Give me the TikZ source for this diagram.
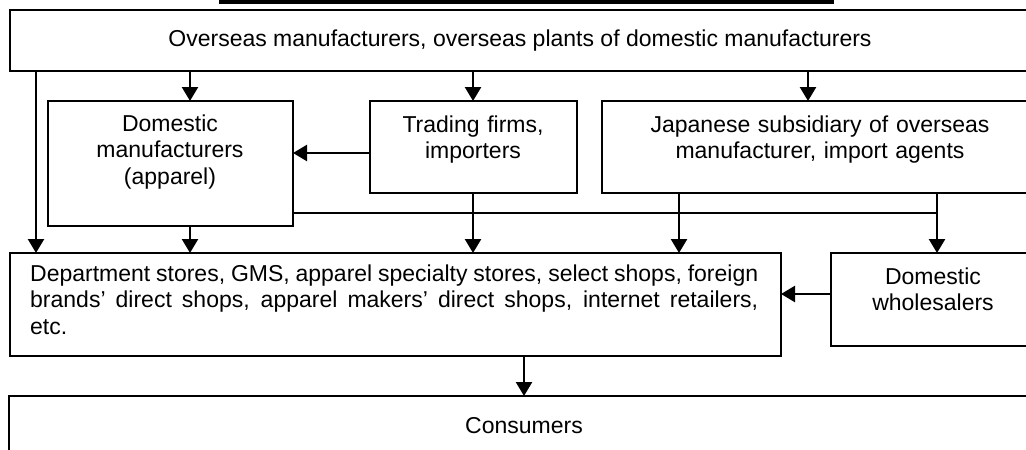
\documentclass[tikz,border=0pt]{standalone}
\usepackage{fontspec}
\setmainfont{Liberation Sans}
\usetikzlibrary{arrows.meta}
\tikzset{
  box/.style={draw=black, line width=2.2pt, rectangle, anchor=north west, inner sep=0pt, outer sep=0pt},
  txt/.style={inner sep=0pt, font=\fontsize{23}{26.5}\selectfont},
  ctxt/.style={txt, text width=#1, align=center, anchor=base},
  arr/.style={line width=2.5pt, -{Triangle[width=16pt,length=14pt]}},
  ln/.style={line width=2.2pt}
}
\begin{document}
\begin{tikzpicture}[x=1pt,y=-1pt]
\useasboundingbox (0,0) rectangle (1026,450);
\clip (0,0) rectangle (1026,450);
% thick bar at the very top
\fill[black] (219,0) rectangle (834,3.5);
% boxes
\node[box, minimum width=1040, minimum height=61] (ov) at (10,10) {};
\node[box, minimum width=245, minimum height=125] (dm) at (48,101) {};
\node[box, minimum width=207, minimum height=92] (tf) at (370,101) {};
\node[box, minimum width=440, minimum height=92] (js) at (602,101) {};
\node[box, minimum width=771, minimum height=103] (ds) at (10,253) {};
\node[box, minimum width=220, minimum height=93] (dw) at (831,253) {};
\node[box, minimum width=1040, minimum height=80] (cs) at (9,396) {};
% texts
\node[txt, anchor=base] (ovt) at (520,46) {Overseas manufacturers, overseas plants of domestic manufacturers};
\node[ctxt=240] (dmt) at (170,131) {Domestic\\manufacturers\\(apparel)};
\node[ctxt=200] (tft) at (473,132) {Trading firms,\\importers};
\node[ctxt=420] (jst) at (820,132) {Japanese subsidiary of overseas\\manufacturer, import agents};
\node[txt, text width=728, align=justify, anchor=base west] (dst) at (30,281)
  {\hyphenpenalty=10000 Department stores, GMS, apparel specialty stores, select shops, foreign\linebreak brands’ direct shops, apparel makers’ direct shops, internet retailers,\linebreak etc.};
\node[ctxt=190] (dwt) at (933,284) {Domestic\\wholesalers};
\node[txt, anchor=base] (cst) at (524,433) {Consumers};
% x positions of the connectors
\coordinate (xa) at (36,0);
\coordinate (xb) at (190,0);
\coordinate (xc) at (473,0);
\coordinate (xd) at (679,0);
\coordinate (xe) at (808,0);
\coordinate (xf) at (937,0);
\coordinate (xg) at (524,0);
\coordinate (ya) at (0,153);
\coordinate (yb) at (0,213);
\coordinate (yc) at (0,294);
% connectors
\draw[arr] (ov.south -| xa) -- (ds.north -| xa);
\draw[arr] (ov.south -| xb) -- (dm.north -| xb);
\draw[arr] (ov.south -| xc) -- (tf.north -| xc);
\draw[arr] (ov.south -| xe) -- (js.north -| xe);
\draw[arr] (tf.west |- ya) -- (dm.east |- ya);
\draw[arr] (dm.south -| xb) -- (ds.north -| xb);
\draw[arr] (tf.south -| xc) -- (ds.north -| xc);
\draw[arr] (js.south -| xd) -- (ds.north -| xd);
\draw[arr] (js.south -| xf) -- (dw.north -| xf);
\draw[ln] (dm.east |- yb) -- (xf |- yb);
\draw[arr] (dw.west |- yc) -- (ds.east |- yc);
\draw[arr] (ds.south -| xg) -- (cs.north -| xg);
\end{tikzpicture}
\end{document}
